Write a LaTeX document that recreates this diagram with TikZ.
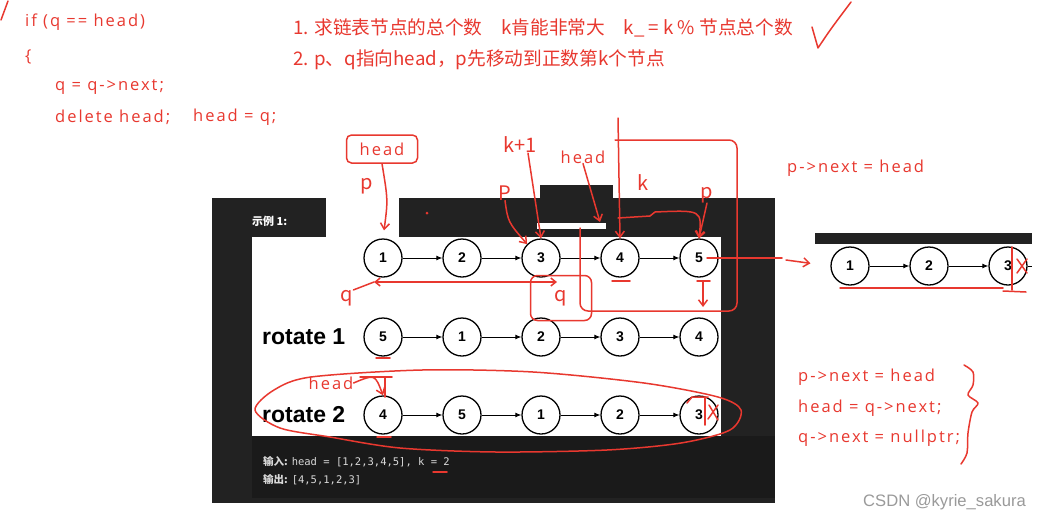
\documentclass[tikz,border=0pt]{standalone}
\usepackage{fontspec}
\setmainfont{Liberation Sans}
\setmonofont{DejaVu Sans Mono}
\newfontfamily\cjk{Noto Sans CJK SC}
\newfontfamily\latn[LetterSpace=12]{Open Sans}
\usetikzlibrary{arrows.meta,positioning,calc}

\definecolor{pen}{HTML}{E8382F}
\definecolor{frame}{HTML}{222222}
\definecolor{console}{HTML}{1A1A1A}
\definecolor{mark}{HTML}{9A9A9A}

\begin{document}
\begin{tikzpicture}[x=1pt,y=-1pt,
  elem/.style={circle,draw,line width=1.3pt,minimum size=38pt,inner sep=0pt,font=\bfseries\fontsize{14}{14}\selectfont},
  link/.style={-{Latex[length=6pt,width=5pt]},line width=0.9pt},
  rowlabel/.style={anchor=west,inner sep=0pt,font=\bfseries\fontsize{23}{23}\selectfont},
  note/.style={anchor=west,inner sep=0pt,text=pen,font=\latn\fontsize{16.5}{16.5}\selectfont},
  plan/.style={anchor=west,inner sep=0pt,text=pen,font=\cjk\fontsize{18.7}{18.7}\selectfont},
  hand/.style={inner sep=0pt,text=pen,font=\cjk\fontsize{20}{20}\selectfont},
  ink/.style={draw=pen,line width=1.5pt,line cap=round,line join=round},
  inkto/.style={ink,-{Straight Barb[length=6pt,width=9pt]}}]

\useasboundingbox (0,0) rectangle (1042,520);
\fill[white] (0,0) rectangle (1042,520);

% example panel
\fill[frame] (212,198) rectangle (775,503);
\fill[white] (326,198) rectangle (399,237);
\fill[white] (252,237) rectangle (721,436);
\fill[frame] (540,185) rectangle (613,198);
\fill[white] (537,223) rectangle (606,229);
\fill[console] (252,436) rectangle (775,498);
\node[anchor=west,inner sep=0pt,text=white,font=\cjk\bfseries\fontsize{11}{11}\selectfont] (ex) at (252,221) {示例 1:};

\foreach \v [count=\i] in {1,2,3,4,5}
  \node[elem] (a\i) at ({383+79*(\i-1)},258) {\v};
\foreach \v [count=\i] in {5,1,2,3,4}
  \node[elem] (b\i) at ({383+79*(\i-1)},337) {\v};
\foreach \v [count=\i] in {4,5,1,2,3}
  \node[elem] (c\i) at ({383+79*(\i-1)},415) {\v};
\foreach \r in {a,b,c}
  \foreach \i/\j in {1/2,2/3,3/4,4/5}
    \draw[link] (\r\i) -- (\r\j);

\node[rowlabel] (rot1) at (262,337) {rotate 1};
\node[rowlabel] (rot2) at (262,415) {rotate 2};

\node[anchor=west,inner sep=0pt,text=white!85!black,font=\fontsize{10.5}{10.5}\selectfont] (inp) at (263,462) {{\cjk\bfseries 输入:} \texttt{head = [1,2,3,4,5], k = 2}};
\node[anchor=west,inner sep=0pt,text=white!85!black,font=\fontsize{10.5}{10.5}\selectfont] (outp) at (263,480) {{\cjk\bfseries 输出:} \texttt{[4,5,1,2,3]}};

% cut list on the right
\fill[frame] (815,233) rectangle (1032,244);
\foreach \v [count=\i] in {1,2,3}
  \node[elem] (r\i) at ({850+79*(\i-1)},266) {\v};
\draw[link] (r1) -- (r2);
\draw[link] (r2) -- (r3);
\coordinate (rend) at (1032,266);
\draw[line width=0.9pt] (r3) -- (rend);

% red notes
\node[note] (code1) at (25,22) {if (q == head)};
\node[note] (code2) at (25,57) {\{};
\node[note] (code3) at (55,87) {q = q->next;};
\node[note] (code4) at (55,117) {delete head;};
\node[note] (code5) at (193,117) {head = q;};
\node[plan] (step1) at (293,28) {1. 求链表节点的总个数\quad k肯能非常大\quad k\_ = k \% 节点总个数};
\node[plan] (step2) at (293,60) {2. p、q指向head，p先移动到正数第k个节点};
\node[note] (link1) at (787,168) {p->next = head};
\node[note] (fix1) at (798,377) {p->next = head};
\node[note] (fix2) at (798,408) {head = q->next;};
\node[note] (fix3) at (798,438) {q->next = nullptr;};
\node[anchor=west,inner sep=0pt,text=mark,font=\fontsize{16.6}{16.6}\selectfont] (csdn) at (863,502) {CSDN @kyrie\_sakura};

\draw[ink] (812,27) -- (818,48) .. controls (830,30) .. (851,2);
\draw[ink] (1,20) -- (8,1);
\draw[ink] plot[smooth] coordinates {(964,365) (973,372) (973,385) (968,395) (978,403) (972,412) (968,433) (967,453) (961,464)};

% marks on row 1
\node[note,anchor=center,draw=pen,line width=1.5pt,rounded corners=5pt,inner sep=0pt,minimum width=71pt,minimum height=28pt] (hbox) at (382,149) {head};
\node[hand] (p1) at (367,186) {p};
\draw[inkto,shorten >=8pt] (hbox.south) .. controls (388,200) .. (a1.north);
\node[hand] (k1) at (520,145) {k+1};
\draw[inkto] ([xshift=8pt]k1.south) -- (a3.north);
\node[hand] (p2) at (505,193) {P};
\draw[inkto] (p2.south) .. controls (508,222) .. (a3.north west);
\node[note,anchor=center] (h2) at (583,157) {head};
\coordinate (bar) at (600,222);
\draw[inkto] (h2.south) -- (bar);
\node[hand] (k2) at (643,183) {k};
\coordinate (top) at (618,118);
\draw[inkto] (top) -- (a4.north);
\coordinate (fork) at (618,218);
\draw[inkto] (fork) -- (650,216) -- (655,212) .. controls (702,210) .. (a5.north);
\node[hand] (p3) at (707,195) {p};
\draw[inkto] (p3.south) -- (a5.north);
\fill[pen] (427,213) circle (1.5);
\draw[ink,rounded corners=8pt] (615,140) -- (737,140) -- (737,311) -- (580,311) -- (580,228);
\node[hand,draw=pen,line width=1.5pt,rounded corners=7pt,minimum width=61pt,minimum height=45pt] (qbox) at (561,298) {q};
\coordinate (qa) at (374,282);
\coordinate (qb) at (557,282);
\draw[ink,{Straight Barb[length=5pt,width=8pt]}-{Straight Barb[length=5pt,width=8pt]}] (qa) -- (qb);
\node[hand] (q1) at (347,298) {q};
\draw[ink] (q1.north east) -- (qa);
\coordinate (out) at (782,258);
\draw[ink] ([xshift=8pt]a5.center) -- (out);
\coordinate (out2) at (786,260);
\draw[inkto,shorten >=20pt] (out2) -- (r1.west);
\draw[ink] (612,281) -- (630,281);
\draw[ink] (697,281) -- (710,281);
\draw[inkto] (703,281) -- (703,307);

% marks on rows 2 and 3
\draw[ink] (376,358) -- (390,358);
\node[note,anchor=center] (h3) at (331,383) {head};
\draw[inkto] (h3.east) .. controls (375,374) .. (c1.north);
\draw[ink] (360,377) -- (392,377);
\draw[ink] (385,377) -- (385,397);
\draw[ink] plot[smooth cycle] coordinates {(255,410) (274,390) (311,377) (422,370) (533,372) (644,383) (718,397) (741,410) (730,430) (681,443) (607,450) (496,452) (400,448) (330,437) (280,428)};
\draw[ink] (377,437) -- (391,437);
\draw[ink] (705,397) -- (705,425);
\draw[ink] (709,405) -- (718,420) (718,405) -- (708,419);
\draw[ink] (687,403) -- (692,397) -- (708,397);
\draw[ink] (433,472) -- (447,472);

% marks on the cut list
\draw[ink] (1012,247) -- (1012,290);
\draw[ink] (1017,259) -- (1027,273) (1027,259) -- (1017,273);
\draw[ink] (840,288) -- (1003,288);
\draw[ink] (1003,291) -- (1026,292);
\end{tikzpicture}
\end{document}
